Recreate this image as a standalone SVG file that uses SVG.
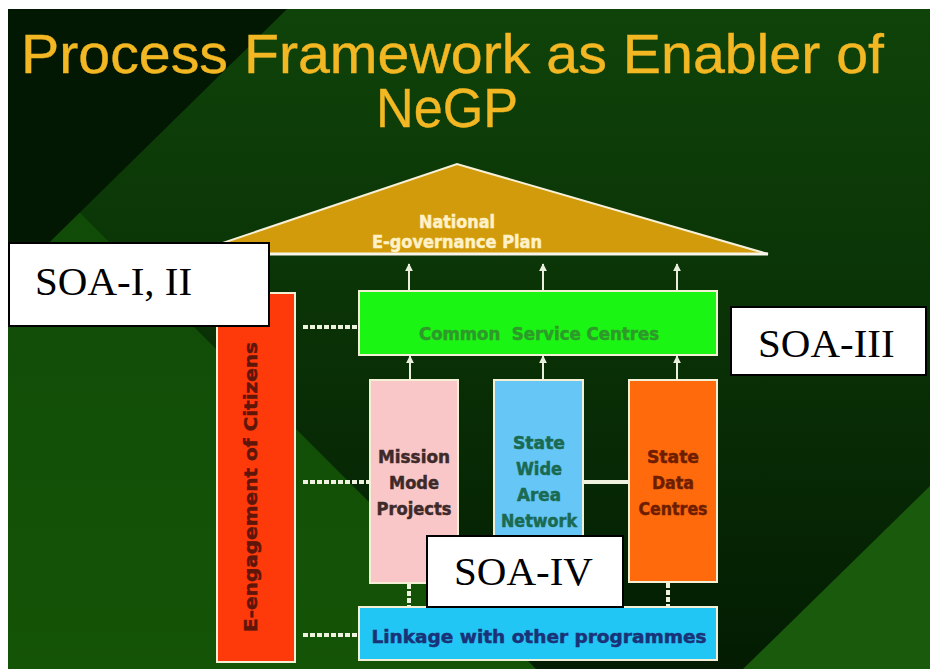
<svg xmlns="http://www.w3.org/2000/svg" width="930" height="669" viewBox="0 0 930 669">
<defs>
<linearGradient id="darkg" x1="0" y1="0" x2="0" y2="1">
<stop offset="0" stop-color="#0f4309"/>
<stop offset="0.45" stop-color="#0a3306"/>
<stop offset="1" stop-color="#031c02"/>
</linearGradient>
<linearGradient id="lowg" x1="0" y1="0" x2="0" y2="1">
<stop offset="0" stop-color="#0f4708"/>
<stop offset="1" stop-color="#145406"/>
</linearGradient>
<marker id="ah" viewBox="0 0 10 10" refX="9" refY="5" markerWidth="4" markerHeight="4" orient="auto" markerUnits="strokeWidth">
<path d="M0,0 L10,5 L0,10 Z" fill="#e9efdc"/>
</marker>
<style>
.box{stroke:#f3f0d6;stroke-width:2}
.lbl{font-family:"DejaVu Sans",Verdana,sans-serif;font-weight:bold;font-size:17px;text-anchor:middle;stroke-width:0.5}
.soa{fill:#ffffff;stroke:#000000;stroke-width:2}
.soat{font-family:"Liberation Serif","Times New Roman",serif;font-size:41px;fill:#000000}
.arr{stroke:#e9efdc;stroke-width:2;fill:none;marker-end:url(#ah)}
.dash{stroke:#f0f2e0;stroke-width:4;stroke-dasharray:5 2;fill:none}
</style>
</defs>
<rect x="0" y="0" width="930" height="669" fill="#ffffff"/>
<rect x="8" y="9" width="922" height="660" fill="url(#lowg)"/>
<polygon points="8,9 930,9 930,669 536,669 8,141" fill="url(#darkg)"/>
<polygon points="8,9 287,9 8,283" fill="#021802"/>
<polygon points="743,669 930,486 930,669" fill="#1a5a0c"/>

<g id="title" font-family="'Liberation Sans',Arial,sans-serif" font-size="55" fill="#f2b722" stroke="#f2b722" stroke-width="0.4">
<text x="21" y="73" textLength="863" lengthAdjust="spacingAndGlyphs">Process Framework as Enabler of</text>
<text x="376" y="127" textLength="142" lengthAdjust="spacingAndGlyphs">NeGP</text>
</g>

<g id="connectors">
<line class="arr" x1="409" y1="290" x2="409" y2="264"/>
<line class="arr" x1="543" y1="290" x2="543" y2="264"/>
<line class="arr" x1="677" y1="290" x2="677" y2="264"/>
<line class="arr" x1="410" y1="380" x2="410" y2="356"/>
<line class="arr" x1="543" y1="380" x2="543" y2="356"/>
<line class="arr" x1="677" y1="380" x2="677" y2="356"/>
<line class="dash" x1="303" y1="327" x2="359" y2="327"/>
<line class="dash" x1="303" y1="482" x2="370" y2="482"/>
<line class="dash" x1="303" y1="635" x2="359" y2="635"/>
<line class="dash" x1="409" y1="584" x2="409" y2="607"/>
<line class="dash" x1="668" y1="583" x2="668" y2="607"/>
<line x1="583" y1="482" x2="629" y2="482" stroke="#f0f2e0" stroke-width="4"/>
</g>

<g id="negp">
<polygon points="190,254 457,164 768,254" fill="#d29b0c" stroke="#f6f0d8" stroke-width="2" stroke-linejoin="miter"/>
<line x1="190" y1="254" x2="768" y2="254" stroke="#f8f6ea" stroke-width="3"/>
<text class="lbl" x="457" y="228" fill="#fff1c8" stroke="#fff1c8" textLength="76" lengthAdjust="spacingAndGlyphs">National</text>
<text class="lbl" x="457" y="248" fill="#fff1c8" stroke="#fff1c8" textLength="170" lengthAdjust="spacingAndGlyphs">E-governance Plan</text>
</g>

<g id="citizens">
<rect class="box" x="217" y="293" width="78" height="369" fill="#ff3a0a"/>
<text class="lbl" transform="translate(257,487) rotate(-90)" x="0" y="0" font-size="25" fill="#5e160a" stroke="#5e160a" textLength="290" lengthAdjust="spacingAndGlyphs">E-engagement of Citizens</text>
</g>

<g id="csc">
<rect class="box" x="359" y="291" width="358" height="64" fill="#1af514"/>
<text class="lbl" x="539" y="340" fill="#2e9a2a" stroke="#2e9a2a" textLength="240" lengthAdjust="spacingAndGlyphs" style="white-space:pre" xml:space="preserve">Common  Service Centres</text>
</g>

<g id="mmp">
<rect class="box" x="370" y="380" width="88" height="203" fill="#f9c7c7"/>
<text class="lbl" x="414" y="463" fill="#3e2a2a" stroke="#3e2a2a" textLength="72" lengthAdjust="spacingAndGlyphs">Mission</text>
<text class="lbl" x="414" y="489" fill="#3e2a2a" stroke="#3e2a2a" textLength="50" lengthAdjust="spacingAndGlyphs">Mode</text>
<text class="lbl" x="414" y="515" fill="#3e2a2a" stroke="#3e2a2a" textLength="75" lengthAdjust="spacingAndGlyphs">Projects</text>
</g>

<g id="swan">
<rect class="box" x="494" y="380" width="89" height="203" fill="#66c6f6"/>
<text class="lbl" x="539" y="449" fill="#1a6a52" stroke="#1a6a52" textLength="52" lengthAdjust="spacingAndGlyphs">State</text>
<text class="lbl" x="539" y="475" fill="#1a6a52" stroke="#1a6a52" textLength="46" lengthAdjust="spacingAndGlyphs">Wide</text>
<text class="lbl" x="539" y="501" fill="#1a6a52" stroke="#1a6a52" textLength="44" lengthAdjust="spacingAndGlyphs">Area</text>
<text class="lbl" x="539" y="527" fill="#1a6a52" stroke="#1a6a52" textLength="76" lengthAdjust="spacingAndGlyphs">Network</text>
</g>

<g id="sdc">
<rect class="box" x="629" y="380" width="88" height="202" fill="#ff6a0c"/>
<text class="lbl" x="673" y="463" fill="#6e1e00" stroke="#6e1e00" textLength="52" lengthAdjust="spacingAndGlyphs">State</text>
<text class="lbl" x="673" y="489" fill="#6e1e00" stroke="#6e1e00" textLength="42" lengthAdjust="spacingAndGlyphs">Data</text>
<text class="lbl" x="673" y="515" fill="#6e1e00" stroke="#6e1e00" textLength="69" lengthAdjust="spacingAndGlyphs">Centres</text>
</g>

<g id="linkage">
<rect class="box" x="359" y="607" width="358" height="53" fill="#22c6f4"/>
<text class="lbl" x="539" y="643" font-size="19.5" fill="#1a3378" stroke="#1a3378" textLength="335" lengthAdjust="spacingAndGlyphs">Linkage with other programmes</text>
</g>

<g id="soa12">
<rect class="soa" x="9" y="243" width="260" height="83"/>
<text class="soat" x="35" y="295">SOA-I, II</text>
</g>

<g id="soa3">
<rect class="soa" x="731" y="307" width="195" height="68"/>
<text class="soat" x="758" y="357">SOA-III</text>
</g>

<g id="soa4">
<rect class="soa" x="427" y="536" width="196" height="71"/>
<text class="soat" x="454" y="585">SOA-IV</text>
</g>
</svg>
